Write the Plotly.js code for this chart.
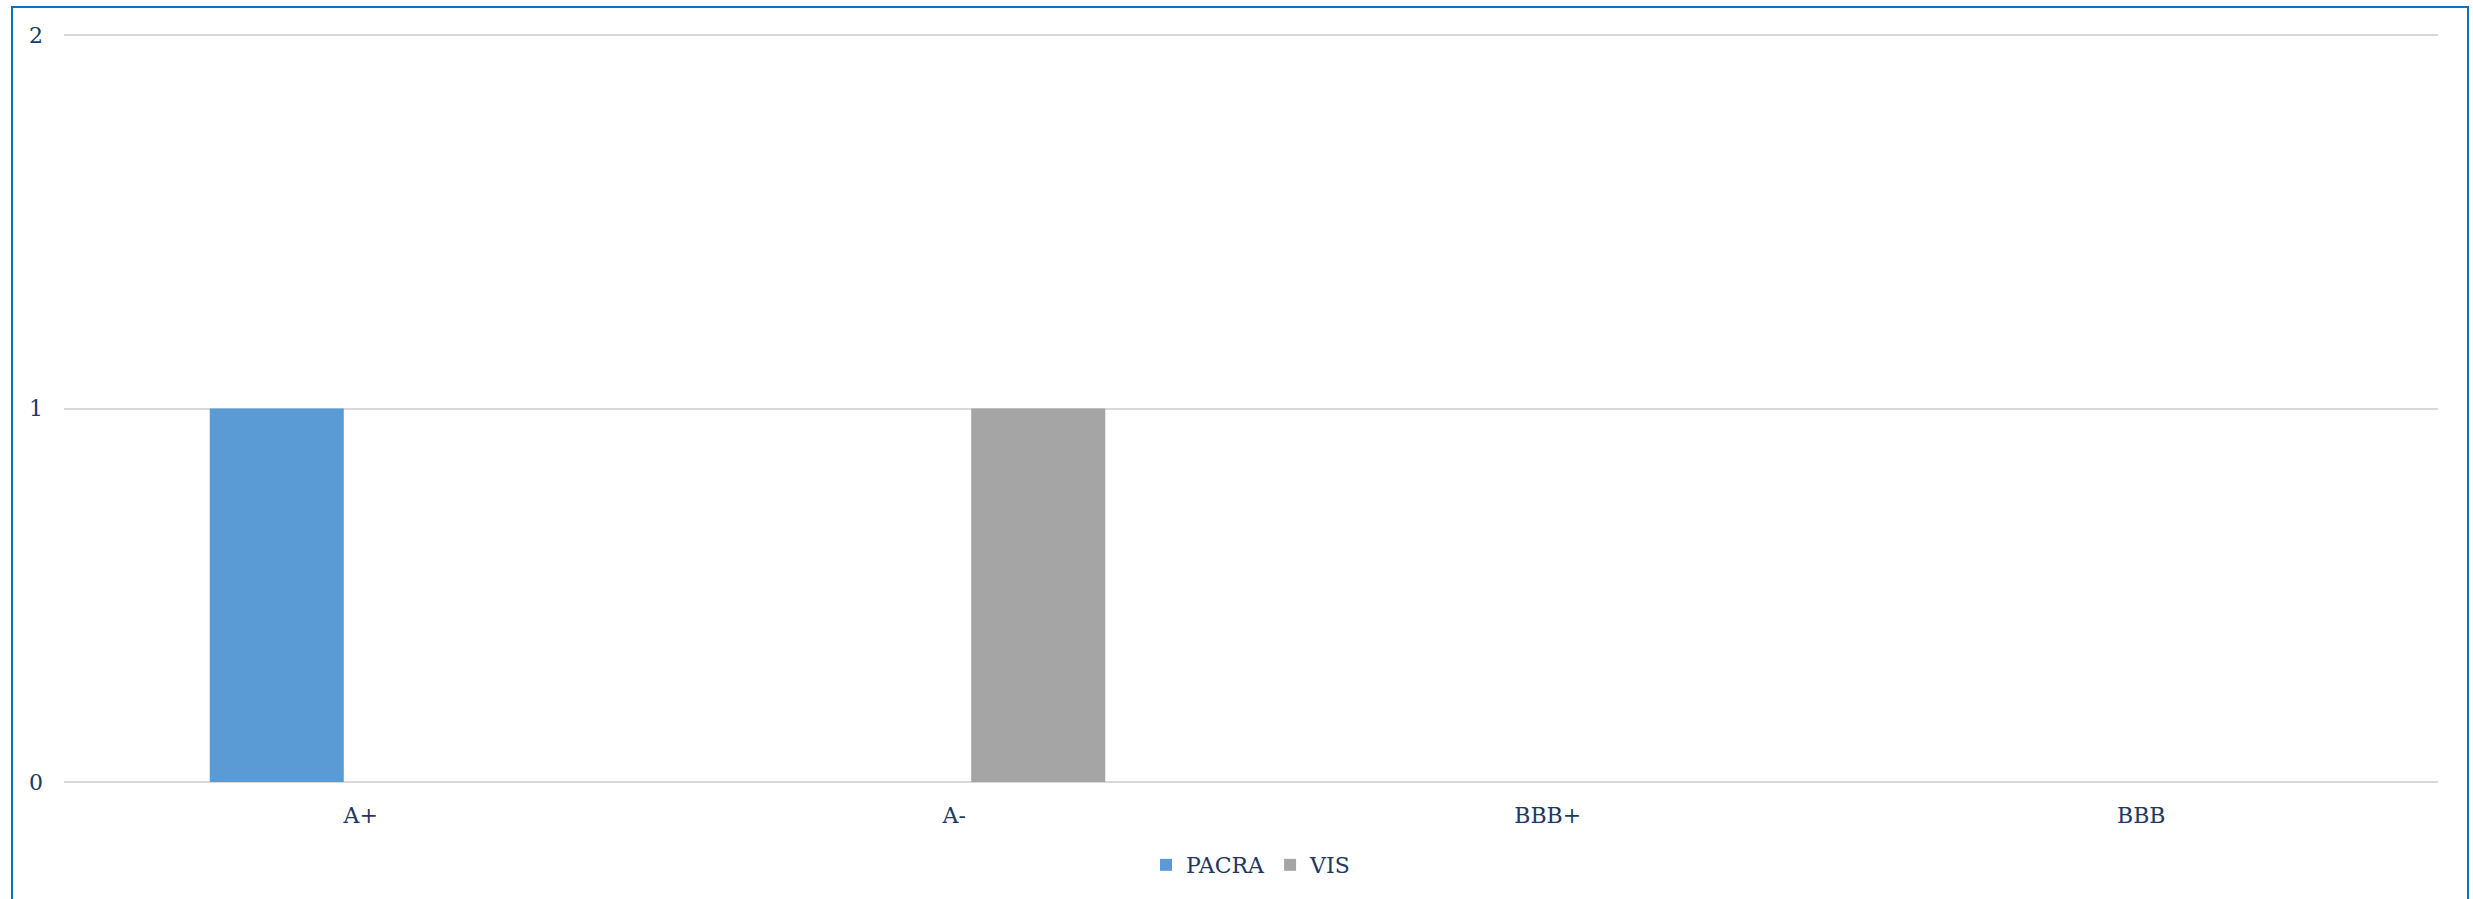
<!DOCTYPE html>
<html>
<head>
<meta charset="utf-8">
<script src="https://cdn.plot.ly/plotly-3.0.1.min.js"></script>
<style>
  html, body { margin: 0; padding: 0; background: #ffffff; overflow: hidden; }
  #frame { position: absolute; left: 11px; top: 6px; width: 2454px; height: 1000px; border: 2px solid #0A72C4; box-sizing: content-box; pointer-events: none; z-index: 2; }
  #chart { position: absolute; left: 0; top: 0; width: 2473px; height: 899px; }
</style>
</head>
<body>
<div id="chart"></div>
<div id="frame"></div>
<script>
const categories = ['A+', 'A-', 'BBB+', 'BBB'];
const pacraValues = [1, 0, 0, 0];
const visValues = [0, 1, 0, 0];
const seriesNames = ['PACRA', 'VIS'];
const yTicks = [0, 1, 2];

const textColor = '#203864';
const fontFamily = '"DejaVu Serif", "Liberation Serif", serif';

const traces = [
  { type: 'bar', name: seriesNames[0], x: categories, y: pacraValues,
    marker: { color: '#5B9BD5', line: { width: 0 } }, hoverinfo: 'x+y+name' },
  { type: 'bar', name: seriesNames[1], x: categories, y: visValues,
    marker: { color: '#A5A5A5', line: { width: 0 } }, hoverinfo: 'x+y+name' }
];

const layout = {
  width: 2473, height: 899,
  margin: { l: 64, r: 35, t: 34, b: 117, pad: 0 },
  paper_bgcolor: 'rgba(0,0,0,0)', plot_bgcolor: 'rgba(0,0,0,0)',
  font: { family: fontFamily, size: 22, color: textColor },
  barmode: 'group', bargap: 0.434, bargroupgap: 0.202,
  showlegend: true,
  legend: { orientation: 'h', x: 0.5, xanchor: 'center', y: -0.111, yanchor: 'middle',
            font: { family: fontFamily, size: 22, color: textColor }, itemwidth: 30, tracegroupgap: 0 },
  xaxis: { type: 'category', showgrid: false, showline: false, zeroline: false, ticks: '',
           ticklabelstandoff: 18,
           tickfont: { family: fontFamily, size: 22, color: textColor }, fixedrange: true },
  yaxis: { range: [0, 2.003], tickvals: yTicks, ticktext: yTicks.map(String), showgrid: true,
           gridcolor: '#D9D9D9', gridwidth: 2, zeroline: true, zerolinecolor: '#D9D9D9', zerolinewidth: 2,
           showline: false, ticks: '', ticklabelstandoff: 20,
           tickfont: { family: fontFamily, size: 22, color: textColor }, fixedrange: true }
};

Plotly.newPlot('chart', traces, layout, { displayModeBar: false, staticPlot: true });
</script>
</body>
</html>
